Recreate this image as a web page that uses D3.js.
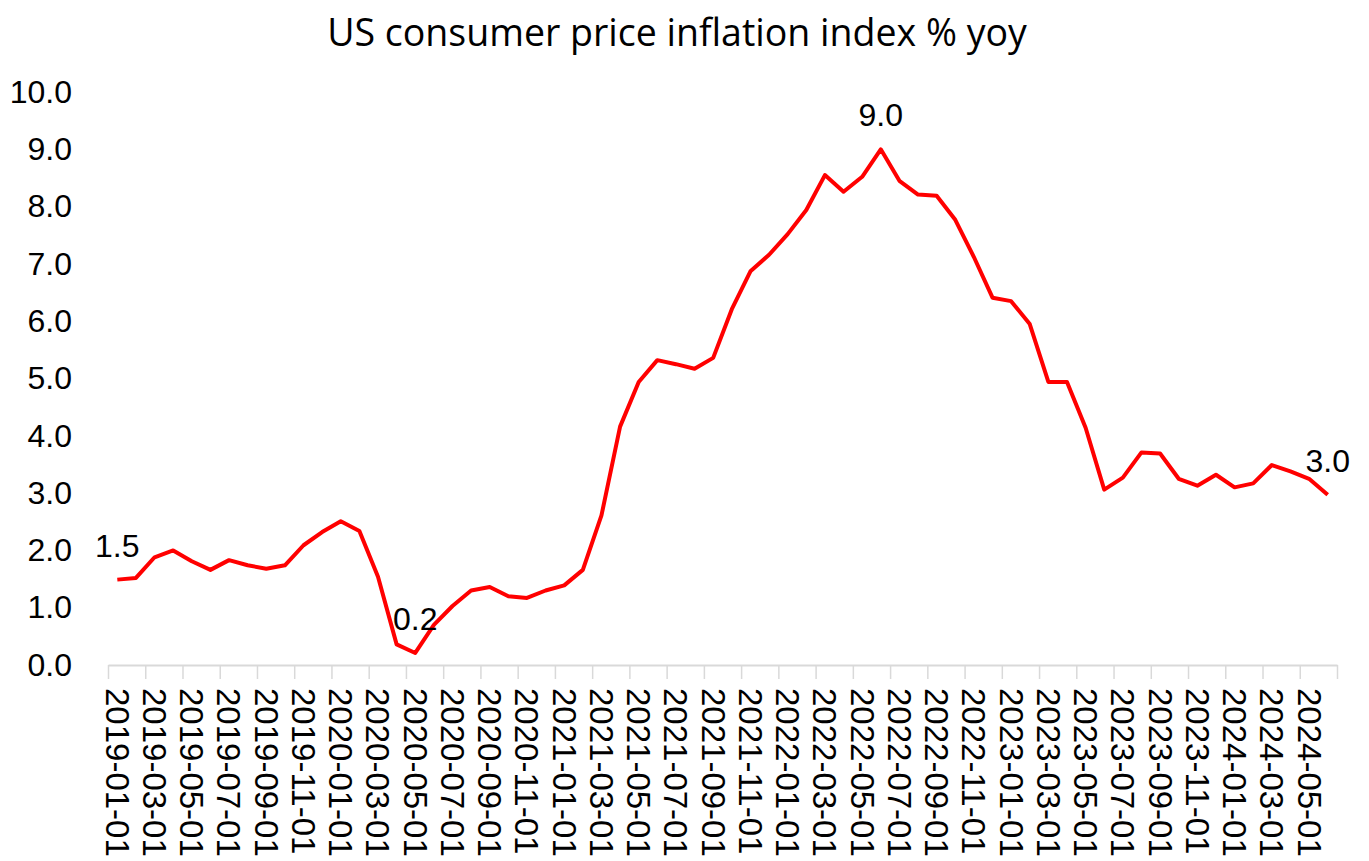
<!DOCTYPE html>
<html>
<head>
<meta charset="utf-8">
<script src="https://cdn.jsdelivr.net/npm/d3@7"></script>
<style>
  body { margin: 0; background: #fff; }
  svg { display: block; }
  .axis text { font-family: "Liberation Sans", Arial, sans-serif; font-size: 32px; fill: #000; }
  .axis.x text { font-size: 33px; }
  .label { font-family: "Liberation Sans", Arial, sans-serif; font-size: 32px; fill: #000; }
  .title { font-family: "Open Sans", sans-serif; font-size: 37.5px; fill: #000; }
</style>
</head>
<body>
<svg id="chart" width="1369" height="861"></svg>
<script>
// monthly dates on the category axis
var months = [
  "2019-01-01","2019-02-01","2019-03-01","2019-04-01","2019-05-01","2019-06-01",
  "2019-07-01","2019-08-01","2019-09-01","2019-10-01","2019-11-01","2019-12-01",
  "2020-01-01","2020-02-01","2020-03-01","2020-04-01","2020-05-01","2020-06-01",
  "2020-07-01","2020-08-01","2020-09-01","2020-10-01","2020-11-01","2020-12-01",
  "2021-01-01","2021-02-01","2021-03-01","2021-04-01","2021-05-01","2021-06-01",
  "2021-07-01","2021-08-01","2021-09-01","2021-10-01","2021-11-01","2021-12-01",
  "2022-01-01","2022-02-01","2022-03-01","2022-04-01","2022-05-01","2022-06-01",
  "2022-07-01","2022-08-01","2022-09-01","2022-10-01","2022-11-01","2022-12-01",
  "2023-01-01","2023-02-01","2023-03-01","2023-04-01","2023-05-01","2023-06-01",
  "2023-07-01","2023-08-01","2023-09-01","2023-10-01","2023-11-01","2023-12-01",
  "2024-01-01","2024-02-01","2024-03-01","2024-04-01","2024-05-01","2024-06-01"
];

// CPI % yoy
var cpiYoy = [
  1.49, 1.52, 1.88, 2.00, 1.81, 1.66, 1.83, 1.74, 1.68, 1.74, 2.09, 2.32,
  2.51, 2.34, 1.54, 0.36, 0.21, 0.70, 1.03, 1.30, 1.36, 1.20, 1.17, 1.30,
  1.39, 1.66, 2.61, 4.16, 4.94, 5.32, 5.25, 5.17, 5.36, 6.21, 6.87, 7.16,
  7.52, 7.94, 8.55, 8.26, 8.52, 9.00, 8.45, 8.21, 8.19, 7.77, 7.12, 6.41,
  6.35, 5.95, 4.94, 4.94, 4.14, 3.06, 3.27, 3.71, 3.69, 3.25, 3.13, 3.32,
  3.10, 3.17, 3.49, 3.38, 3.25, 2.97
];

// which points carry a value label (start, low, high, end)
var labelled = [0, 16, 41, 65];

var yTicks = [0, 1, 2, 3, 4, 5, 6, 7, 8, 9, 10];
var xLabelMonths = months.filter(function(d, i) { return i % 2 === 0; });

var svg = d3.select("#chart"),
    plotLeft = 108, plotRight = 1337, plotTop = 92, plotBottom = 665;

var x = d3.scaleBand().domain(months).range([plotLeft, plotRight]),
    y = d3.scaleLinear().domain([0, 10]).range([plotBottom, plotTop]);

// category boundaries, used only for the little tick marks
var edge = d3.scaleLinear().domain([0, months.length]).range([plotLeft, plotRight]);

function cx(d) { return x(d) + x.bandwidth() / 2; }

svg.append("text")
    .attr("class", "title")
    .attr("x", 677)
    .attr("y", 46)
    .attr("text-anchor", "middle")
    .text("US consumer price inflation index % yoy");

// y axis: labels only, no line
var yAxis = svg.append("g")
    .attr("class", "axis y")
    .attr("transform", "translate(" + plotLeft + ",0)")
    .call(d3.axisLeft(y).tickValues(yTicks).tickFormat(d3.format(".1f")).tickSize(0).tickPadding(36));
yAxis.select(".domain").remove();

// x axis line and tick marks between every second category
var xTickAxis = svg.append("g")
    .attr("transform", "translate(0," + plotBottom + ")")
    .call(d3.axisBottom(edge).tickValues(d3.range(0, months.length + 1, 2)).tickFormat("").tickSize(14).tickSizeOuter(0));
xTickAxis.select(".domain").attr("stroke", "#d9d9d9").attr("stroke-width", 2);
xTickAxis.selectAll(".tick line").attr("stroke", "#d9d9d9").attr("stroke-width", 1.5);

// x labels, rotated to read downwards
var xAxis = svg.append("g")
    .attr("class", "axis x")
    .attr("transform", "translate(0," + plotBottom + ")")
    .call(d3.axisBottom(x).tickValues(xLabelMonths).tickSize(0));
xAxis.select(".domain").remove();
xAxis.selectAll("text")
    .attr("transform", "rotate(90)")
    .attr("x", 23)
    .attr("y", 0)
    .attr("dy", "0.35em")
    .attr("text-anchor", "start");

var line = d3.line()
    .x(function(d, i) { return cx(months[i]); })
    .y(function(d) { return y(d); });

svg.append("path")
    .datum(cpiYoy)
    .attr("fill", "none")
    .attr("stroke", "#ff0000")
    .attr("stroke-width", 4)
    .attr("stroke-linejoin", "round")
    .attr("d", line);

svg.selectAll(".label")
    .data(labelled)
    .enter()
    .append("text")
    .attr("class", "label")
    .attr("x", function(i) { return cx(months[i]); })
    .attr("y", function(i) { return y(cpiYoy[i]) - 23; })
    .attr("text-anchor", "middle")
    .text(function(i) { return cpiYoy[i].toFixed(1); });
</script>
</body>
</html>
